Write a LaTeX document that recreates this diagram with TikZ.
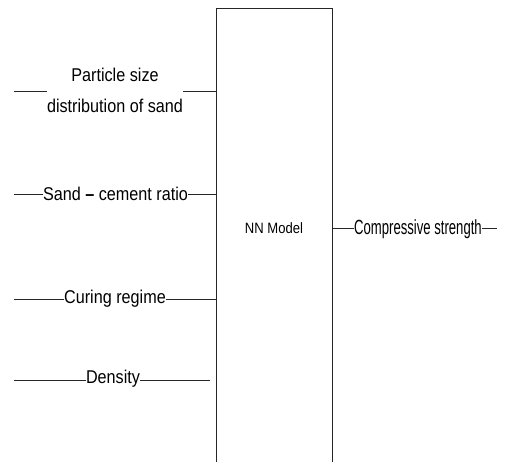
\documentclass[tikz,border=0pt]{standalone}
\usepackage{fontspec}
\setmainfont{Liberation Sans}
\newfontfamily\lblfont[FakeStretch=0.875]{Liberation Sans}
\newfontfamily\outfont[FakeStretch=0.64]{Liberation Sans}
\newfontfamily\boxfont[FakeStretch=0.87]{Liberation Sans}
\begin{document}
\begin{tikzpicture}[x=1pt,y=-1pt,
  lbl/.style={font=\lblfont\fontsize{18.5}{31}\selectfont, inner sep=0pt, align=center},
  outlbl/.style={font=\outfont\fontsize{20.5}{23}\selectfont, inner sep=0pt},
  wire/.style={draw=black!85, line width=0.9pt},
  model/.style={draw=black!85, line width=0.9pt, minimum width=116pt, minimum height=470pt, inner sep=0pt}]
\useasboundingbox (0,0) rectangle (527,461);
% model box (bottom runs past the page)
\node[model, anchor=north west] (nn) at (216,8) {};
\node[font=\boxfont\fontsize{15}{17}\selectfont, inner sep=0pt] (nnlbl) at (274,228) {NN Model};
% inputs
\node[lbl] (p1) at (115,90) {Particle size\\distribution of sand};
\node[lbl] (p2) at (115.5,194) {Sand {\bfseries –} cement ratio};
\node[lbl] (p3) at (115,299) {Curing regime};
\node[lbl] (p4) at (113,379) {Density};
\coordinate (s1) at (14,91);
\coordinate (s2) at (14,194);
\coordinate (s3) at (14,299);
\coordinate (s4) at (14,380);
\coordinate (e4) at (210,380);
\draw[wire] (s1) -- (47,91);
\draw[wire] (183,91) -- (nn.west |- s1);
\draw[wire] (s2) -- (p2.west);
\draw[wire] (p2.east) -- (nn.west |- s2);
\draw[wire] (s3) -- (p3.west);
\draw[wire] (p3.east) -- (nn.west |- s3);
\draw[wire] (s4) -- (s4 -| p4.west);
\draw[wire] (s4 -| p4.east) -- (e4);
% output
\node[outlbl] (out) at (418,229) {Compressive strength};
\coordinate (oe) at (497,228);
\draw[wire] (nn.east |- oe) -- (nn.east |- oe -| out.west);
\draw[wire] (out.east |- oe) -- (oe);
\end{tikzpicture}
\end{document}
